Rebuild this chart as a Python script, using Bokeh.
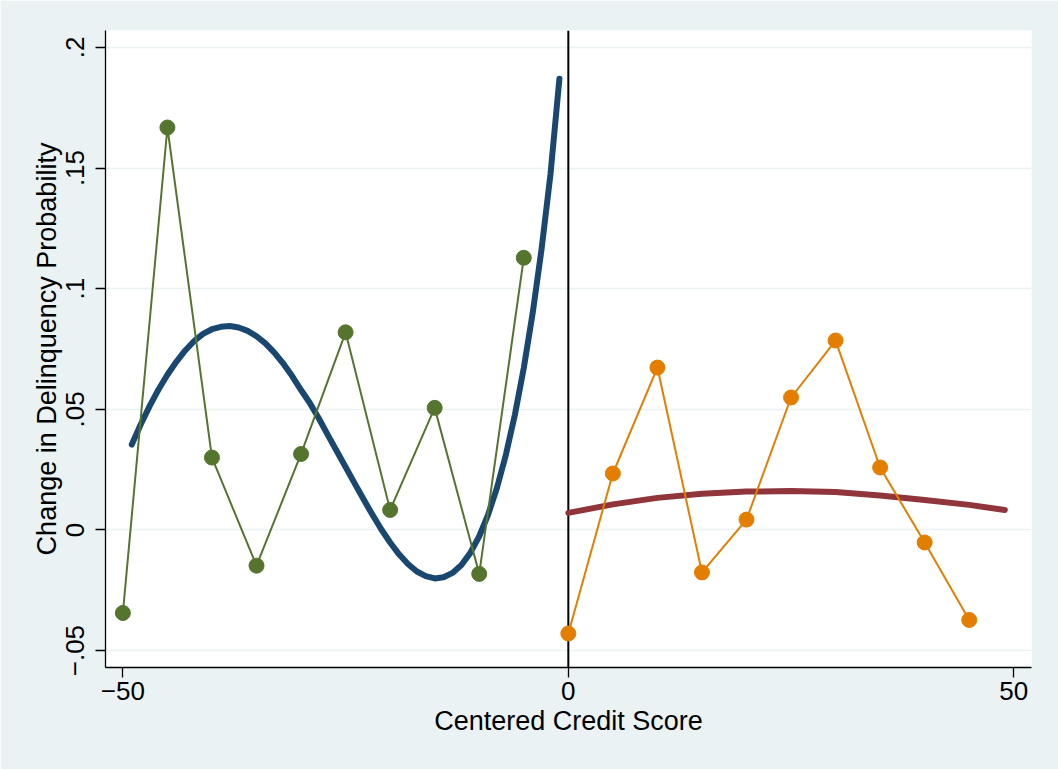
from bokeh.plotting import figure
from bokeh.models import Span, FixedTicker, Range1d
from bokeh.embed import file_html
from bokeh.resources import INLINE

# Binned means of the change in delinquency probability, left and right of the cutoff
left_x = [-50, -45, -40, -35, -30, -25, -20, -15, -10, -5]
left_y = [-0.0344, 0.1668, 0.0300, -0.0148, 0.0315, 0.0819, 0.0083, 0.0506, -0.0182, 0.1128]

right_x = [0, 5, 10, 15, 20, 25, 30, 35, 40, 45]
right_y = [-0.0429, 0.0234, 0.0673, -0.0176, 0.0043, 0.0549, 0.0785, 0.0259, -0.0052, -0.0373]

# Fitted polynomial below the cutoff
fit_left_x = [-49, -48, -47, -46, -45, -44, -43, -42, -41, -40, -39, -38, -37, -36,
              -35, -34, -33, -32, -31, -30, -29, -28, -27, -26, -25, -24, -23, -22,
              -21, -20, -19, -18, -17, -16, -15, -14, -13, -12, -11, -10, -9, -8,
              -7, -6, -5, -4, -3, -2, -1]
fit_left_y = [0.0354, 0.0437, 0.0513, 0.0582, 0.0643, 0.0697, 0.0744, 0.0783, 0.0813,
              0.0832, 0.0842, 0.0845, 0.0839, 0.0825, 0.0803, 0.0773, 0.0735, 0.0690,
              0.0638, 0.0580, 0.0525, 0.0462, 0.0394, 0.0327, 0.0261, 0.0194, 0.0128,
              0.0064, 0.0003, -0.0052, -0.0101, -0.0141, -0.0172, -0.0191, -0.0201,
              -0.0196, -0.0178, -0.0145, -0.0095, -0.0026, 0.0064, 0.0176, 0.0313,
              0.0477, 0.0671, 0.0899, 0.1165, 0.1475, 0.1870]

# Fitted polynomial above the cutoff
fit_right_x = [0, 5, 10, 15, 20, 25, 30, 35, 40, 45, 49]
fit_right_y = [0.0071, 0.0106, 0.0133, 0.0150, 0.0159, 0.0161, 0.0157, 0.0143, 0.0124,
               0.0104, 0.0083]

x_ticks = [-50, 0, 50]
x_tick_labels = ["\u221250", "0", "50"]
y_ticks = [-0.05, 0.0, 0.05, 0.1, 0.15, 0.2]
y_tick_labels = ["\u2212.05", "0", ".05", ".1", ".15", ".2"]

BG = "#EAF2F3"
FONT = "Liberation Sans"

p = figure(width=1058, height=769, output_backend="svg", toolbar_location=None,
           x_range=Range1d(-51.95, 51.99), y_range=Range1d(-0.057, 0.207),
           min_border_left=105, min_border_right=27, min_border_top=30,
           min_border_bottom=102)

p.background_fill_color = "white"
p.border_fill_color = BG
p.outline_line_color = None

# Cutoff line, drawn beneath the data
p.add_layout(Span(location=0, dimension="height", line_color="black",
                  line_width=2, level="underlay"))

p.line(fit_left_x, fit_left_y, line_color="#1A476F", line_width=6,
       line_cap="round", line_join="round")
p.line(fit_right_x, fit_right_y, line_color="#90353B", line_width=6,
       line_cap="round", line_join="round")

p.line(left_x, left_y, line_color="#55752F", line_width=2)
p.scatter(left_x, left_y, size=15, fill_color="#55752F", line_color="#55752F")
p.line(right_x, right_y, line_color="#E37E00", line_width=2)
p.scatter(right_x, right_y, size=15, fill_color="#E37E00", line_color="#E37E00")

# Grid: horizontal only
p.xgrid.visible = False
p.ygrid.ticker = FixedTicker(ticks=y_ticks)
p.ygrid.grid_line_color = BG
p.ygrid.grid_line_width = 1.5

for ax in (p.xaxis[0], p.yaxis[0]):
    ax.axis_line_color = "black"
    ax.axis_line_width = 1.3
    ax.major_tick_line_color = "black"
    ax.major_tick_line_width = 1.3
    ax.major_tick_out = 10
    ax.major_tick_in = 0
    ax.minor_tick_line_color = None
    ax.major_label_text_font = FONT
    ax.major_label_text_font_size = "26px"
    ax.major_label_text_color = "black"
    ax.axis_label_text_font = FONT
    ax.axis_label_text_font_size = "27px"
    ax.axis_label_text_font_style = "normal"
    ax.axis_label_text_color = "black"

p.xaxis.ticker = FixedTicker(ticks=x_ticks)
p.xaxis.major_label_overrides = dict(zip(x_ticks, x_tick_labels))
p.xaxis.axis_label = "Centered Credit Score"
p.xaxis.major_label_standoff = 4
p.xaxis.axis_label_standoff = 3

p.yaxis.ticker = FixedTicker(ticks=y_ticks)
p.yaxis.major_label_overrides = dict(zip(y_ticks, y_tick_labels))
p.yaxis.major_label_orientation = "parallel"
p.yaxis.axis_label = "Change in Delinquency Probability"
p.yaxis.major_label_standoff = 11
p.yaxis.axis_label_standoff = 2

open("out.html", "w").write(file_html(p, INLINE))
